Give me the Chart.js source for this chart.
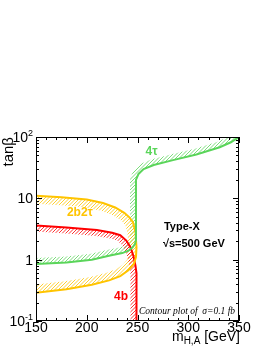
<!DOCTYPE html>
<html>
<head>
<meta charset="utf-8">
<script src="https://cdn.jsdelivr.net/npm/chart.js@4.4.1/dist/chart.umd.min.js"></script>
<style>
  body { margin: 0; background: #fff; }
  canvas { display: block; }
</style>
</head>
<body>
<canvas id="contour" width="273" height="353"></canvas>
<script>
// 4tau contour
const tauMass = [150, 180, 205, 223, 235, 241, 245, 247.5, 248.5, 248.5, 251, 256, 266, 285, 308, 331, 342, 350];
const tauTanb = [0.85, 0.9, 1.0, 1.17, 1.28, 1.4, 1.57, 1.8, 2.1, 20, 25, 30, 35, 42, 52, 68, 82, 100];

// 2b2tau contour
const mixMass = [150, 175, 200, 216, 228, 237, 242, 245.5, 248, 249, 248.5, 246.5, 241, 233, 222, 205, 180, 150];
const mixTanb = [11, 10.4, 9.6, 8.4, 7.1, 5.8, 4.9, 4.1, 2.8, 1.6, 1.1, 0.86, 0.67, 0.54, 0.46, 0.39, 0.33, 0.29];

// 4b contour
const bMass = [150, 180, 210, 225, 233, 239, 243, 246, 248, 249, 249];
const bTanb = [3.6, 3.35, 3.05, 2.75, 2.5, 2.05, 1.6, 1.15, 0.8, 0.6, 0.1];

// axes
const xTicks = [150, 200, 250, 300, 350];
const yTicks = [0.1, 1, 10, 100];
const yTickLabels = [['10', '-1'], ['1', ''], ['10', ''], ['10', '2']];

const GREEN = '#5ad55a';
const YELLOW = '#ffc400';
const RED = '#ff0000';
const SANS = '"Liberation Sans", Arial, sans-serif';

function toPoints(xs, ys) {
  return xs.map((x, i) => ({x: x, y: ys[i]}));
}

// hatched band on one side of each contour
const hatch = {
  id: 'hatch',
  beforeDatasetsDraw(chart) {
    const ctx = chart.ctx, a = chart.chartArea;
    chart.data.datasets.forEach((ds, i) => {
      const pts = chart.getDatasetMeta(i).data.map(p => ({x: p.x, y: p.y}));
      const n = pts.length;
      const normals = [];
      for (let k = 0; k < n - 1; k++) {
        const dx = pts[k + 1].x - pts[k].x, dy = pts[k + 1].y - pts[k].y;
        const len = Math.hypot(dx, dy) || 1;
        normals.push({x: -dy / len * ds.hatchSide, y: dx / len * ds.hatchSide});
      }
      const off = pts.map((p, k) => {
        const n0 = normals[Math.max(k - 1, 0)], n1 = normals[Math.min(k, n - 2)];
        let mx = n0.x + n1.x, my = n0.y + n1.y;
        const ml = Math.hypot(mx, my) || 1;
        mx /= ml; my /= ml;
        const d = Math.min(ds.hatchWidth / Math.max(mx * n1.x + my * n1.y, 0.3), 2 * ds.hatchWidth);
        return {x: p.x + mx * d, y: p.y + my * d};
      });
      ctx.save();
      ctx.beginPath();
      ctx.rect(a.left, a.top, a.right - a.left, a.bottom - a.top);
      ctx.clip();
      ctx.beginPath();
      pts.forEach((p, k) => k ? ctx.lineTo(p.x, p.y) : ctx.moveTo(p.x, p.y));
      for (let k = n - 1; k >= 0; k--) ctx.lineTo(off[k].x, off[k].y);
      ctx.closePath();
      ctx.clip();
      ctx.strokeStyle = ds.hatchColor;
      ctx.lineWidth = 0.8;
      ctx.beginPath();
      const h = a.bottom - a.top;
      for (let c = a.left; c <= a.right + h; c += 3.5) {
        ctx.moveTo(c, a.top);
        ctx.lineTo(c - h, a.bottom);
      }
      ctx.stroke();
      ctx.restore();
    });
  }
};

// text placed in data coordinates
const notes = [
  {text: '4τ', x: 263.8, y: 57, color: GREEN, font: 'bold 12px ' + SANS, align: 'center'},
  {text: '2b2τ', x: 193.3, y: 5.8, color: YELLOW, font: 'bold 12px ' + SANS, align: 'center'},
  {text: '4b', x: 233.7, y: 0.25, color: RED, font: 'bold 12px ' + SANS, align: 'center'},
  {text: 'Type-X', x: 276, y: 3.35, color: '#000', font: 'bold 11px ' + SANS, align: 'left'},
  {text: '√s=500 GeV', x: 275, y: 1.8, color: '#000', font: 'bold 11px ' + SANS, align: 'left'},
  {text: 'Contour plot of  σ=0.1 fb', x: 251.5, y: 0.143, color: '#000', font: 'italic 9.5px "Liberation Serif", serif', align: 'left'}
];

// frame, ticks on all sides, labels, titles
const frame = {
  id: 'frame',
  afterDraw(chart) {
    const ctx = chart.ctx, a = chart.chartArea;
    const xs = chart.scales.x, ys = chart.scales.y;
    ctx.save();
    ctx.strokeStyle = '#000';
    ctx.lineWidth = 1;
    ctx.strokeRect(a.left + 0.5, a.top + 0.5, a.right - a.left - 1, a.bottom - a.top - 1);

    ctx.beginPath();
    for (let v = xs.min; v <= xs.max; v += 10) {
      const px = Math.round(xs.getPixelForValue(v)) + 0.5;
      const len = v % 50 === 0 ? 6 : 3;
      ctx.moveTo(px, a.bottom); ctx.lineTo(px, a.bottom - len);
      ctx.moveTo(px, a.top); ctx.lineTo(px, a.top + len);
    }
    for (let d = 0.1; d < 100; d *= 10) {
      for (let k = 1; k <= 10; k++) {
        const py = Math.round(ys.getPixelForValue(d * k)) + 0.5;
        const len = (k === 1 || k === 10) ? 6 : 3;
        ctx.moveTo(a.left, py); ctx.lineTo(a.left + len, py);
        ctx.moveTo(a.right, py); ctx.lineTo(a.right - len, py);
      }
    }
    ctx.stroke();

    ctx.fillStyle = '#000';
    ctx.font = '14px ' + SANS;
    ctx.textAlign = 'center';
    ctx.textBaseline = 'alphabetic';
    xTicks.forEach(v => ctx.fillText(String(v), xs.getPixelForValue(v), a.bottom + 11));

    yTicks.forEach((v, i) => {
      const py = ys.getPixelForValue(v);
      const [base, exp] = yTickLabels[i];
      const right = a.left - 3;
      ctx.font = '9px ' + SANS;
      const ew = exp ? ctx.measureText(exp).width : 0;
      ctx.textAlign = 'left';
      if (exp) ctx.fillText(exp, right - ew, py - 1);
      ctx.font = '14px ' + SANS;
      ctx.textAlign = 'right';
      ctx.fillText(base, right - ew, py + 5);
    });

    // y title
    ctx.save();
    ctx.translate(13, a.top);
    ctx.rotate(-Math.PI / 2);
    ctx.font = '15px ' + SANS;
    ctx.textAlign = 'right';
    ctx.fillText('tanβ', 0, 0);
    ctx.restore();

    // x title
    ctx.textAlign = 'left';
    ctx.font = '14px ' + SANS;
    const w1 = ctx.measureText('m').width, w3 = ctx.measureText(' [GeV]').width;
    ctx.font = '10px ' + SANS;
    const w2 = ctx.measureText('H,A').width;
    let tx = a.right + 1 - (w1 + w2 + w3);
    ctx.font = '14px ' + SANS;
    ctx.fillText('m', tx, 341);
    ctx.font = '10px ' + SANS;
    ctx.fillText('H,A', tx + w1, 344);
    ctx.font = '14px ' + SANS;
    ctx.fillText(' [GeV]', tx + w1 + w2, 341);

    notes.forEach(t => {
      ctx.font = t.font;
      ctx.fillStyle = t.color;
      ctx.textAlign = t.align;
      ctx.textBaseline = 'middle';
      ctx.fillText(t.text, xs.getPixelForValue(t.x), ys.getPixelForValue(t.y));
    });
    ctx.restore();
  }
};

new Chart(document.getElementById('contour'), {
  type: 'scatter',
  data: {
    datasets: [
      {label: '4tau', data: toPoints(tauMass, tauTanb), borderColor: GREEN, hatchColor: GREEN, hatchSide: -1, hatchWidth: 6},
      {label: '2b2tau', data: toPoints(mixMass, mixTanb), borderColor: YELLOW, hatchColor: YELLOW, hatchSide: 1, hatchWidth: 8},
      {label: '4b', data: toPoints(bMass, bTanb), borderColor: RED, hatchColor: RED, hatchSide: 1, hatchWidth: 6}
    ].map(ds => Object.assign(ds, {showLine: true, borderWidth: 2, pointRadius: 0, tension: 0, fill: false}))
  },
  options: {
    responsive: false,
    animation: false,
    devicePixelRatio: 1,
    layout: {padding: {left: 36, top: 137, right: 34, bottom: 32}},
    scales: {
      x: {type: 'linear', min: 150, max: 350, display: false},
      y: {type: 'logarithmic', min: 0.1, max: 100, display: false}
    },
    plugins: {
      legend: {display: false},
      tooltip: {enabled: false}
    }
  },
  plugins: [hatch, frame]
});
</script>
</body>
</html>
